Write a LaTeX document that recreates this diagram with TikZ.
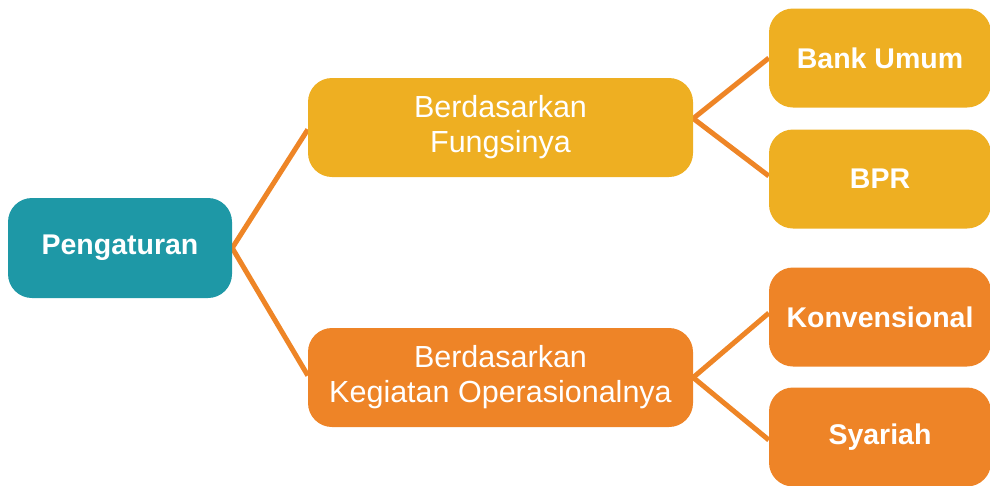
\documentclass[tikz,border=0pt]{standalone}
\usepackage{fontspec}
\setmainfont{Liberation Sans}
\usetikzlibrary{backgrounds}
\definecolor{tealc}{HTML}{1E98A6}
\definecolor{yellowc}{HTML}{EEAF22}
\definecolor{orangec}{HTML}{EE8427}
\definecolor{linec}{HTML}{EE8526}
\tikzset{
  box/.style={rounded corners=24pt, text=white, align=center, inner sep=0pt},
  leaf/.style={box, minimum width=222pt, minimum height=99pt, font=\fontsize{28.5}{34}\selectfont\bfseries},
  mid/.style={box, minimum width=385pt, minimum height=99pt, font=\fontsize{30.5}{35}\selectfont},
  conn/.style={draw=linec, line width=5pt}
}
\begin{document}
\begin{tikzpicture}[x=1pt,y=-1pt]
\useasboundingbox (0,0) rectangle (990,485);
\node[box, fill=tealc, minimum width=224pt, minimum height=100pt, font=\fontsize{28.5}{34}\selectfont\bfseries] (peng) at (120,248) {Pengaturan};
\node[mid, fill=yellowc] (fung) at (500.5,127.5) {Berdasarkan\\Fungsinya};
\node[mid, fill=orangec] (keg) at (500.5,377.5) {Berdasarkan\\Kegiatan Operasionalnya};
\node[leaf, fill=yellowc] (bank) at (880,58) {Bank Umum};
\node[leaf, fill=yellowc] (bpr) at (880,179) {BPR};
\node[leaf, fill=orangec] (konv) at (880,317) {Konvensional};
\node[leaf, fill=orangec] (syar) at (880,437) {Syariah};
\begin{scope}[on background layer]
\draw[conn] (peng.east) -- ([yshift=-2pt]fung.west);
\draw[conn] (peng.east) -- ([yshift=2pt]keg.west);
\draw[conn] ([yshift=9pt]fung.east) -- (bank.west);
\draw[conn] ([yshift=9pt]fung.east) -- ([yshift=3pt]bpr.west);
\draw[conn] (keg.east) -- ([yshift=4pt]konv.west);
\draw[conn] (keg.east) -- ([yshift=-3pt]syar.west);
\end{scope}
\end{tikzpicture}
\end{document}
